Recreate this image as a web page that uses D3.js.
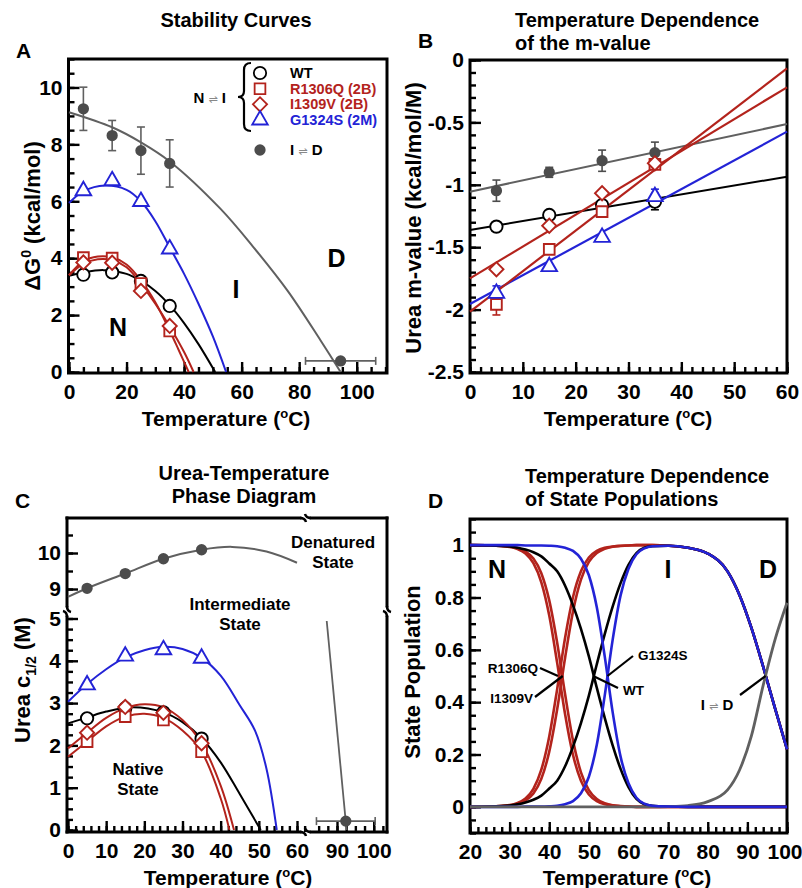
<!DOCTYPE html>
<html>
<head>
<meta charset="utf-8">
<script src="https://cdn.jsdelivr.net/npm/d3@7"></script>
<style>
  body { margin: 0; background: #fff; }
  text { font-family: "Liberation Sans", Arial, Helvetica, sans-serif; font-weight: bold; }
</style>
</head>
<body>
<script>
const RED = "#b3231c", BLUE = "#2323d6", GREY = "#606060", DOT = "#4c4c4c";

// ---------------- Panel A: stability curves ----------------
const tempsA = [5, 15, 25, 35];
const wtA = [3.42, 3.5, 3.2, 2.32];
const r1306qA = [4.02, 4.0, 3.11, 1.44];
const i1309vA = [3.85, 3.84, 2.85, 1.62];
const g1324sA = [6.37, 6.72, 5.99, 4.32];
const idA = [9.25, 8.31, 7.78, 7.33];
const idErrA = [0.76, 0.53, 0.83, 0.83];
const idHotT = [94.4], idHotG = [0.39], idHotTErr = [12.2];

const wtFitA_T = [0, 5, 12, 20, 25, 30, 35, 40, 45, 50.8];
const wtFitA = [3.38, 3.5, 3.58, 3.45, 3.2, 2.85, 2.35, 1.72, 0.98, 0];
const r1306qFitA_T = [0, 5, 10, 15, 20, 25, 30, 35, 38, 41.6];
const r1306qFitA = [3.4, 3.9, 4.06, 4.03, 3.78, 3.22, 2.45, 1.45, 0.8, 0];
const i1309vFitA_T = [0, 5, 10, 15, 20, 25, 30, 35, 40, 43.3];
const i1309vFitA = [3.4, 3.8, 3.96, 3.93, 3.68, 3.1, 2.4, 1.6, 0.7, 0];
const g1324sFitA_T = [0, 5, 12.5, 20, 25, 30, 35, 40, 45, 50, 54.6];
const g1324sFitA = [5.94, 6.35, 6.55, 6.4, 6.0, 5.3, 4.38, 3.45, 2.4, 1.25, 0];
const idFitA_T = [0, 15, 25, 35, 52.6, 64, 76, 87.5, 94.4];
const idFitA = [9.13, 8.6, 8.07, 7.4, 5.74, 4.4, 2.85, 1.1, 0];

// ---------------- Panel B: m-values ----------------
const tempsB = [5, 15, 25, 35];
const wtB = [-1.335, -1.242, -1.162, -1.135], wtErrB = [0, 0, 0, 0.065];
const r1306qB = [-1.958, -1.517, -1.215, -0.836], r1306qErrB = [0.085, 0, 0, 0];
const i1309vB = [-1.677, -1.328, -1.068, -0.828], i1309vErrB = [0, 0, 0, 0];
const g1324sB = [-1.87, -1.656, -1.421, -1.095], g1324sErrB = [0.06, 0, 0, 0.06];
const idB = [-1.047, -0.9, -0.807, -0.743], idErrB = [0.085, 0.04, 0.085, 0.085];
const fitB_T = [0, 60];
const wtFitB = [-1.362, -0.935];
const r1306qFitB = [-2.017, -0.067];
const i1309vFitB = [-1.75, -0.219];
const g1324sFitB = [-1.955, -0.574];
const idFitB = [-1.055, -0.513];

// ---------------- Panel C: phase diagram ----------------
const tempsC = [5, 15, 25, 35];
const wtC = [2.64, 2.88, 2.78, 2.16];
const r1306qC = [2.09, 2.68, 2.6, 1.85];
const i1309vC = [2.3, 2.91, 2.77, 2.05];
const g1324sC = [3.43, 4.11, 4.26, 4.06];
const idC = [9.02, 9.43, 9.84, 10.09];
const idHotCT = [92.4], idHotC = [0.21], idHotCTErr = [8];

const wtFitC_T = [0, 5, 10, 17, 25, 30, 35, 40, 45, 50.5];
const wtFitC = [2.52, 2.66, 2.8, 2.9, 2.78, 2.55, 2.17, 1.6, 0.85, 0];
const r1306qFitC_T = [0, 5, 10, 15, 20, 25, 30, 35, 40, 42.3];
const r1306qFitC = [1.73, 2.09, 2.45, 2.68, 2.75, 2.65, 2.35, 1.85, 0.75, 0];
const i1309vFitC_T = [0, 5, 10, 15, 20, 25, 30, 35, 40, 43.5];
const i1309vFitC = [1.93, 2.3, 2.65, 2.88, 2.97, 2.9, 2.6, 2.05, 1.05, 0];
const g1324sFitC_T = [0, 5, 10, 15, 20, 25, 30, 35, 40, 45, 49, 52, 54.7];
const g1324sFitC = [3.03, 3.45, 3.8, 4.08, 4.25, 4.33, 4.28, 4.07, 3.65, 2.95, 2.35, 1.45, 0];
const idFitC_T = [0, 5, 15, 25, 35, 43, 52, 60];
const idFitC = [8.78, 9.02, 9.43, 9.84, 10.09, 10.17, 10.04, 9.73];
const idHotFitC_T = [87.2, 92.6];
const idHotFitC = [4.94, 0];

// ---------------- Panel D: state populations ----------------
const popT = [20, 25, 30, 32, 34, 36, 38, 40, 42, 44, 46, 48, 50, 52, 54, 56, 58, 60, 62, 64, 66, 70, 75, 80, 85, 88, 91, 94, 97, 100];
const r1306qN = [1, 0.999, 0.993, 0.985, 0.968, 0.931, 0.858, 0.731, 0.55, 0.354, 0.198, 0.1, 0.047, 0.022, 0.01, 0.005, 0.002, 0.001, 0, 0, 0, 0, 0, 0, 0, 0, 0, 0, 0, 0];
const r1306qI = [0, 0.001, 0.007, 0.015, 0.032, 0.069, 0.142, 0.269, 0.45, 0.646, 0.802, 0.9, 0.953, 0.978, 0.99, 0.995, 0.998, 0.999, 1, 1, 1, 0.998, 0.99, 0.968, 0.9, 0.81, 0.685, 0.535, 0.375, 0.22];
const i1309vN = [1, 0.999, 0.995, 0.989, 0.976, 0.949, 0.893, 0.789, 0.627, 0.43, 0.253, 0.132, 0.064, 0.03, 0.014, 0.006, 0.003, 0.001, 0, 0, 0, 0, 0, 0, 0, 0, 0, 0, 0, 0];
const i1309vI = [0, 0.001, 0.005, 0.011, 0.024, 0.051, 0.107, 0.211, 0.373, 0.57, 0.747, 0.868, 0.936, 0.97, 0.986, 0.994, 0.997, 0.999, 1, 1, 1, 0.998, 0.99, 0.968, 0.9, 0.81, 0.685, 0.535, 0.375, 0.22];
const wtN = [1, 0.999, 0.995, 0.99, 0.983, 0.973, 0.957, 0.93, 0.9, 0.845, 0.77, 0.68, 0.575, 0.455, 0.34, 0.235, 0.145, 0.075, 0.03, 0.01, 0.004, 0.001, 0, 0, 0, 0, 0, 0, 0, 0];
const wtI = [0, 0.001, 0.005, 0.01, 0.017, 0.027, 0.043, 0.07, 0.1, 0.155, 0.23, 0.32, 0.425, 0.545, 0.66, 0.765, 0.855, 0.925, 0.97, 0.99, 0.996, 0.998, 0.99, 0.968, 0.9, 0.81, 0.685, 0.535, 0.375, 0.22];
const g1324sN = [1, 1, 1, 1, 0.999, 0.999, 0.999, 0.998, 0.996, 0.99, 0.978, 0.948, 0.885, 0.763, 0.575, 0.362, 0.192, 0.09, 0.035, 0.012, 0.004, 0.001, 0, 0, 0, 0, 0, 0, 0, 0];
const g1324sI = [0, 0, 0, 0, 0.001, 0.001, 0.001, 0.002, 0.004, 0.01, 0.022, 0.052, 0.115, 0.237, 0.425, 0.638, 0.808, 0.91, 0.965, 0.988, 0.996, 0.998, 0.99, 0.968, 0.9, 0.81, 0.685, 0.535, 0.375, 0.22];
const idD = [0, 0, 0, 0, 0, 0, 0, 0, 0, 0, 0, 0, 0, 0, 0, 0, 0, 0, 0, 0, 0, 0.001, 0.005, 0.02, 0.065, 0.14, 0.27, 0.465, 0.64, 0.78];
const crossT = { r1306q: 42.2, i1309v: 43.4, wt: 51.1, g1324s: 54.7, id: 94.6 };

// legend of panel A
const legendNames = ["WT", "R1306Q (2B)", "I1309V (2B)", "G1324S (2M)"];
const legendShapes = ["circle", "square", "diamond", "triangle"];
const legendColors = ["#000", RED, RED, BLUE];

const svg = d3.select("body").append("svg").attr("width", 802).attr("height", 888);

const SYM = {
  circle: d3.symbol(d3.symbolCircle, 120),
  square: d3.symbol(d3.symbolSquare, 115),
  diamond: d3.symbol(d3.symbolSquare, 100),
  triangle: d3.symbol(d3.symbolTriangle, 105),
  dot: d3.symbol(d3.symbolCircle, 100)
};

function frame(g, x0, y0, x1, y1) {
  g.append("rect").attr("x", x0).attr("y", y0).attr("width", x1 - x0).attr("height", y1 - y0)
    .attr("fill", "none").attr("stroke", "#000").attr("stroke-width", 3);
}

function styleAxis(s) {
  s.select(".domain").remove();
  s.selectAll(".tick line").attr("stroke", "#000").attr("stroke-width", 2.4);
  s.selectAll(".tick text").attr("font-size", 21).attr("fill", "#000");
}

function leftTicks(g, y, x0, major, minor, fmt) {
  g.append("g").attr("transform", `translate(${x0},0)`)
    .call(d3.axisLeft(y).tickValues(minor).tickSize(-6).tickFormat("")).call(styleAxis);
  g.append("g").attr("transform", `translate(${x0},0)`)
    .call(d3.axisLeft(y).tickValues(major).tickSize(-11).tickPadding(6).tickFormat(fmt)).call(styleAxis);
}

function bottomTicks(g, x, y0, major, minor, fmt) {
  g.append("g").attr("transform", `translate(0,${y0})`)
    .call(d3.axisBottom(x).tickValues(minor).tickSize(-6).tickFormat("")).call(styleAxis);
  return g.append("g").attr("transform", `translate(0,${y0})`)
    .call(d3.axisBottom(x).tickValues(major).tickSize(-11).tickPadding(11).tickFormat(fmt)).call(styleAxis);
}

function curve(g, xs, ys, x, y, color, w = 2, c = d3.curveCatmullRom) {
  g.append("path").datum(d3.zip(xs, ys))
    .attr("d", d3.line().x(d => x(d[0])).y(d => y(d[1])).curve(c))
    .attr("fill", "none").attr("stroke", color).attr("stroke-width", w);
}

function markers(g, xs, ys, x, y, shape, color, fill = "#fff") {
  g.append("g").selectAll("path").data(d3.zip(xs, ys)).join("path")
    .attr("d", SYM[shape])
    .attr("transform", d => `translate(${x(d[0])},${y(d[1])})` + (shape === "diamond" ? " rotate(45)" : ""))
    .attr("fill", fill).attr("stroke", color).attr("stroke-width", shape === "dot" ? 0 : 1.9);
}

function yErr(g, xs, ys, es, x, y, color) {
  const data = d3.zip(xs, ys, es).filter(d => d[2] > 0);
  const eg = g.append("g").attr("stroke", color).attr("stroke-width", 1.6);
  eg.selectAll(".v").data(data).join("line")
    .attr("x1", d => x(d[0])).attr("x2", d => x(d[0]))
    .attr("y1", d => y(d[1] - d[2])).attr("y2", d => y(d[1] + d[2]));
  [-1, 1].forEach(s => {
    eg.selectAll(null).data(data).join("line")
      .attr("x1", d => x(d[0]) - 4).attr("x2", d => x(d[0]) + 4)
      .attr("y1", d => y(d[1] + s * d[2])).attr("y2", d => y(d[1] + s * d[2]));
  });
}

function xErr(g, xs, ys, es, x, y, color) {
  const data = d3.zip(xs, ys, es);
  const eg = g.append("g").attr("stroke", color).attr("stroke-width", 1.6);
  eg.selectAll(".h").data(data).join("line")
    .attr("x1", d => x(d[0] - d[2])).attr("x2", d => x(d[0] + d[2]))
    .attr("y1", d => y(d[1])).attr("y2", d => y(d[1]));
  [-1, 1].forEach(s => {
    eg.selectAll(null).data(data).join("line")
      .attr("x1", d => x(d[0] + s * d[2])).attr("x2", d => x(d[0] + s * d[2]))
      .attr("y1", d => y(d[1]) - 4).attr("y2", d => y(d[1]) + 4);
  });
}

function txt(g, x, y, s, size, anchor = "middle", fill = "#000") {
  return g.append("text").attr("x", x).attr("y", y).attr("text-anchor", anchor)
    .attr("font-size", size).attr("fill", fill).text(s);
}

function tempLabel(g, x, y) {
  const t = g.append("text").attr("x", x).attr("y", y).attr("text-anchor", "middle").attr("font-size", 21);
  t.append("tspan").text("Temperature (");
  t.append("tspan").attr("dy", -8).attr("font-size", 13).text("o");
  t.append("tspan").attr("dy", 8).text("C)");
}

function yLabel(g, x, y) {
  return g.append("text").attr("transform", `translate(${x},${y}) rotate(-90)`)
    .attr("text-anchor", "middle").attr("font-size", 22);
}

const range = (a, b, s) => d3.range(a, b + s / 1000, s);

// =============== Panel A ===============
const gA = svg.append("g");
const xA = d3.scaleLinear([0, 110], [69, 385.5]);
const yA = d3.scaleLinear([0, 11], [372, 59]);
frame(gA, 68.5, 59, 387, 373);
leftTicks(gA, yA, 68.5, range(0, 10, 2), range(0, 11, 0.5), d3.format("d"));
bottomTicks(gA, xA, 373, range(0, 100, 20), range(0, 110, 5), d3.format("d"));

curve(gA, idFitA_T, idFitA, xA, yA, GREY);
curve(gA, g1324sFitA_T, g1324sFitA, xA, yA, BLUE);
curve(gA, wtFitA_T, wtFitA, xA, yA, "#000");
curve(gA, r1306qFitA_T, r1306qFitA, xA, yA, RED);
curve(gA, i1309vFitA_T, i1309vFitA, xA, yA, RED);
yErr(gA, tempsA, idA, idErrA, xA, yA, GREY);
xErr(gA, idHotT, idHotG, idHotTErr, xA, yA, GREY);
markers(gA, tempsA, idA, xA, yA, "dot", DOT, DOT);
markers(gA, idHotT, idHotG, xA, yA, "dot", DOT, DOT);
markers(gA, tempsA, wtA, xA, yA, "circle", "#000");
markers(gA, tempsA, r1306qA, xA, yA, "square", RED);
markers(gA, tempsA, i1309vA, xA, yA, "diamond", RED);
markers(gA, tempsA, g1324sA, xA, yA, "triangle", BLUE);

txt(gA, 236, 27, "Stability Curves", 20);
txt(gA, 16, 58, "A", 21, "start");
tempLabel(gA, 226, 426);
const labA = yLabel(gA, 40, 216);
labA.append("tspan").text("ΔG");
labA.append("tspan").attr("dy", -9).attr("font-size", 14).text("0");
labA.append("tspan").attr("dy", 9).text(" (kcal/mol)");
txt(gA, xA(17), yA(1.25), "N", 25);
txt(gA, xA(58), yA(2.6), "I", 25);
txt(gA, xA(93), yA(3.7), "D", 25);

// legend
const lg = gA.append("g");
const legY = d3.scaleLinear([0, 3], [73, 120]);
legendNames.forEach((name, i) => {
  lg.append("path").attr("d", SYM[legendShapes[i]])
    .attr("transform", `translate(260,${legY(i)})` + (legendShapes[i] === "diamond" ? " rotate(45)" : ""))
    .attr("fill", "#fff").attr("stroke", legendColors[i]).attr("stroke-width", 1.8);
  txt(lg, 290, legY(i) + 5, name, 14.5, "start", legendColors[i]);
});
lg.append("path").attr("d", SYM.dot).attr("transform", "translate(260,150)").attr("fill", DOT);
const idLeg = lg.append("text").attr("x", 290).attr("y", 155).attr("font-size", 15);
idLeg.append("tspan").text("I ");
idLeg.append("tspan").attr("fill", "#888").attr("font-weight", "normal").attr("font-family", "DejaVu Sans").attr("font-size", 11).text("⇌");
idLeg.append("tspan").text(" D");
const niLeg = lg.append("text").attr("x", 226).attr("y", 103).attr("text-anchor", "end").attr("font-size", 15);
niLeg.append("tspan").text("N ");
niLeg.append("tspan").attr("fill", "#888").attr("font-weight", "normal").attr("font-family", "DejaVu Sans").attr("font-size", 11).text("⇌");
niLeg.append("tspan").text(" I");
const bp = d3.path(), bx = 244, bt = 63, bm = 97, bb = 131;
bp.moveTo(bx + 7, bt); bp.quadraticCurveTo(bx, bt, bx, bt + 7); bp.lineTo(bx, bm - 6);
bp.quadraticCurveTo(bx, bm, bx - 6, bm); bp.quadraticCurveTo(bx, bm, bx, bm + 6);
bp.lineTo(bx, bb - 7); bp.quadraticCurveTo(bx, bb, bx + 7, bb);
lg.append("path").attr("d", bp.toString()).attr("fill", "none").attr("stroke", "#000").attr("stroke-width", 2.2);

// =============== Panel B ===============
const gB = svg.append("g");
const xB = d3.scaleLinear([0, 60], [470, 787]);
const yB = d3.scaleLinear([-2.5, 0], [372, 60]);
frame(gB, 470, 60, 787, 373);
leftTicks(gB, yB, 470, [0, -0.5, -1, -1.5, -2, -2.5], range(-2.5, 0, 0.1), d => String(d));
bottomTicks(gB, xB, 373, range(0, 60, 10), range(0, 60, 2), d3.format("d"));

curve(gB, fitB_T, idFitB, xB, yB, GREY, 2, d3.curveLinear);
curve(gB, fitB_T, wtFitB, xB, yB, "#000", 2, d3.curveLinear);
curve(gB, fitB_T, g1324sFitB, xB, yB, BLUE, 2.2, d3.curveLinear);
curve(gB, fitB_T, r1306qFitB, xB, yB, RED, 2.2, d3.curveLinear);
curve(gB, fitB_T, i1309vFitB, xB, yB, RED, 2.2, d3.curveLinear);
yErr(gB, tempsB, idB, idErrB, xB, yB, DOT);
yErr(gB, tempsB, wtB, wtErrB, xB, yB, "#000");
yErr(gB, tempsB, r1306qB, r1306qErrB, xB, yB, RED);
yErr(gB, tempsB, g1324sB, g1324sErrB, xB, yB, BLUE);
markers(gB, tempsB, idB, xB, yB, "dot", DOT, DOT);
markers(gB, tempsB, wtB, xB, yB, "circle", "#000");
markers(gB, tempsB, r1306qB, xB, yB, "square", RED);
markers(gB, tempsB, i1309vB, xB, yB, "diamond", RED);
markers(gB, tempsB, g1324sB, xB, yB, "triangle", BLUE);

txt(gB, 515, 27, "Temperature Dependence", 20, "start");
txt(gB, 515, 50, "of the m-value", 20, "start");
txt(gB, 418, 48, "B", 21, "start");
tempLabel(gB, 628, 426);
yLabel(gB, 421, 218).text("Urea m-value (kcal/mol/M)");

// =============== Panel C ===============
const gC = svg.append("g");
const xCL = d3.scaleLinear([0, 60], [68, 297]);
const xCR = d3.scaleLinear([90, 100], [337, 373.7]);
const yCL = d3.scaleLinear([0, 5], [830, 618.5]);
const yCU = d3.scaleLinear([9, 10], [589, 553]);
const fr = gC.append("g").attr("fill", "none").attr("stroke", "#000").attr("stroke-width", 3);
const segs = [
  [67, 832, 67, 617], [67, 606, 67, 518], [67, 518, 300, 518], [311, 518, 387, 518],
  [387, 518, 387, 606], [387, 617, 387, 832], [67, 832, 300, 832], [311, 832, 387, 832]
];
fr.selectAll("line").data(segs).join("line")
  .attr("x1", d => d[0]).attr("y1", d => d[1]).attr("x2", d => d[2]).attr("y2", d => d[3])
  .attr("stroke-linecap", "square");
const hooks = [
  "M67,617 q0,-5 -4,-6", "M67,606 q0,5 4,6", "M387,617 q0,-5 -4,-6", "M387,606 q0,5 4,6",
  "M300,518 q5,0 6,4", "M311,518 q-5,0 -6,-4", "M300,832 q5,0 6,4", "M311,832 q-5,0 -6,-4"
];
fr.selectAll("path").data(hooks).join("path").attr("d", d => d).attr("stroke-width", 2.5);

leftTicks(gC, yCL, 67, range(0, 5, 1), range(0, 5, 0.25), d3.format("d"));
leftTicks(gC, yCU, 67, [9, 10], [9, 9.5, 10, 10.5], d3.format("d"));
bottomTicks(gC, xCL, 832, range(0, 60, 10), range(0, 62, 2), d3.format("d"));
bottomTicks(gC, xCR, 832, [90, 100], [85, 87.5, 90, 92.5, 95, 97.5, 100, 102.5], d3.format("d"));

curve(gC, idFitC_T, idFitC, xCL, yCU, GREY);
curve(gC, idHotFitC_T, idHotFitC, xCR, yCL, GREY, 1.8, d3.curveLinear);
curve(gC, g1324sFitC_T, g1324sFitC, xCL, yCL, BLUE);
curve(gC, wtFitC_T, wtFitC, xCL, yCL, "#000");
curve(gC, r1306qFitC_T, r1306qFitC, xCL, yCL, RED);
curve(gC, i1309vFitC_T, i1309vFitC, xCL, yCL, RED);
xErr(gC, idHotCT, idHotC, idHotCTErr, xCR, yCL, GREY);
markers(gC, idHotCT, idHotC, xCR, yCL, "dot", DOT, DOT);
markers(gC, tempsC, idC, xCL, yCU, "dot", DOT, DOT);
markers(gC, tempsC, wtC, xCL, yCL, "circle", "#000");
markers(gC, tempsC, r1306qC, xCL, yCL, "square", RED);
markers(gC, tempsC, i1309vC, xCL, yCL, "diamond", RED);
markers(gC, tempsC, g1324sC, xCL, yCL, "triangle", BLUE);

txt(gC, 244, 480, "Urea-Temperature", 20);
txt(gC, 244, 503, "Phase Diagram", 20);
txt(gC, 15, 508, "C", 21, "start");
tempLabel(gC, 228, 885);
const labC = yLabel(gC, 30, 680);
labC.append("tspan").text("Urea c");
labC.append("tspan").attr("dy", 6).attr("font-size", 14).text("1/2");
labC.append("tspan").attr("dy", -6).text(" (M)");
txt(gC, 333, 548, "Denatured", 17);
txt(gC, 333, 568, "State", 17);
txt(gC, 240, 610, "Intermediate", 17);
txt(gC, 240, 630, "State", 17);
txt(gC, 138, 775, "Native", 17);
txt(gC, 138, 795, "State", 17);

// =============== Panel D ===============
const gD = svg.append("g");
const xD = d3.scaleLinear([20, 100], [470, 787]);
const yD = d3.scaleLinear([-0.1, 1.1], [833, 519]);
frame(gD, 470, 519, 787, 833);
leftTicks(gD, yD, 470, [0, 0.2, 0.4, 0.6, 0.8, 1], range(-0.1, 1.1, 0.05), d => String(d));
const axD = bottomTicks(gD, xD, 833, range(20, 100, 10), range(20, 100, 2), d3.format("d"));
// last label sits at the page edge: keep it inside
axD.selectAll(".tick text").filter(d => d === 100).attr("text-anchor", "end").attr("x", 15);

const mono = d3.curveMonotoneX;
curve(gD, popT, r1306qN, xD, yD, RED, 2.6, mono);
curve(gD, popT, i1309vN, xD, yD, RED, 2.6, mono);
curve(gD, popT, r1306qI, xD, yD, RED, 2.6, mono);
curve(gD, popT, i1309vI, xD, yD, RED, 2.6, mono);
curve(gD, popT, wtN, xD, yD, "#000", 2.6, mono);
curve(gD, popT, wtI, xD, yD, "#000", 2.6, mono);
curve(gD, popT, g1324sI, xD, yD, BLUE, 2.6, mono);
curve(gD, popT, idD, xD, yD, GREY, 2.8, mono);
curve(gD, popT, g1324sN, xD, yD, BLUE, 2.6, mono);

const ann = gD.append("g").attr("stroke", "#000").attr("stroke-width", 2.2);
const annLines = [
  [540, 668, crossT.r1306q], [535, 697, crossT.i1309v], [633, 656, crossT.g1324s],
  [618, 688, crossT.wt], [740, 695, crossT.id]
];
ann.selectAll("line").data(annLines).join("line")
  .attr("x1", d => d[0]).attr("y1", d => d[1]).attr("x2", d => xD(d[2])).attr("y2", yD(0.5));
txt(gD, 538, 673, "R1306Q", 13.5, "end");
txt(gD, 533, 703, "I1309V", 13.5, "end");
txt(gD, 638, 660, "G1324S", 13.5, "start");
txt(gD, 623, 695, "WT", 13.5, "start");
const idAnn = gD.append("text").attr("x", 717).attr("y", 710).attr("text-anchor", "middle").attr("font-size", 15);
idAnn.append("tspan").text("I ");
idAnn.append("tspan").attr("fill", "#888").attr("font-weight", "normal").attr("font-family", "DejaVu Sans").attr("font-size", 11).text("⇌");
idAnn.append("tspan").text(" D");
txt(gD, 497, 578, "N", 25);
txt(gD, 668, 578, "I", 25);
txt(gD, 768, 578, "D", 25);

txt(gD, 525, 483, "Temperature Dependence", 20, "start");
txt(gD, 525, 506, "of State Populations", 20, "start");
txt(gD, 428, 508, "D", 21, "start");
tempLabel(gD, 627, 885);
yLabel(gD, 420, 672).text("State Population");
</script>
</body>
</html>
